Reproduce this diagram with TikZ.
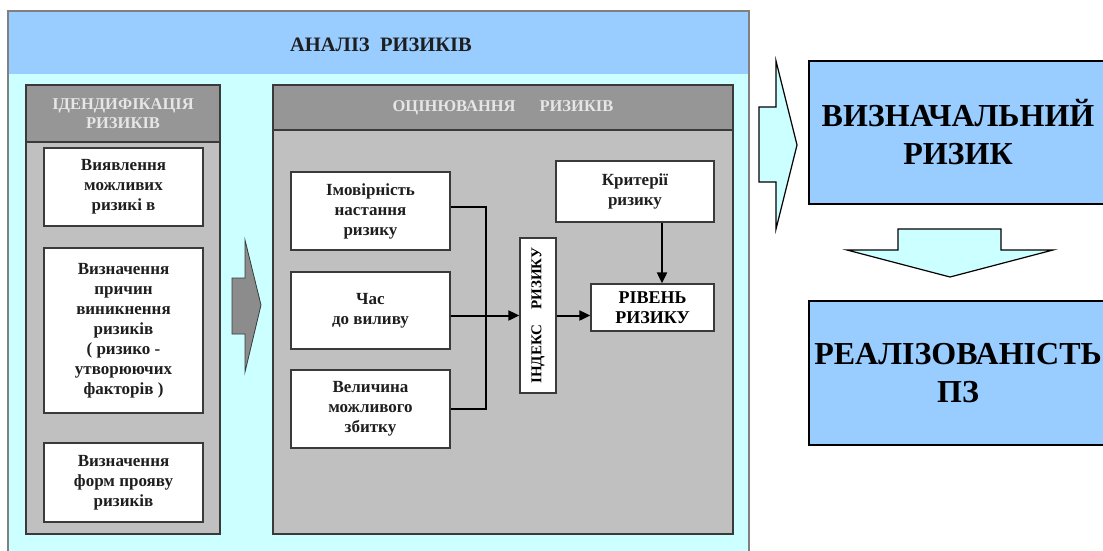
\documentclass[tikz,border=0pt]{standalone}
\usepackage{fontspec}
\setmainfont{Liberation Serif}[BoldFont={Liberation Serif Bold}]
\usetikzlibrary{arrows.meta}

\definecolor{skyband}{HTML}{99CCFF}
\definecolor{paleaqua}{HTML}{CCFFFF}
\definecolor{hdrgray}{HTML}{969696}
\definecolor{bodygray}{HTML}{C0C0C0}
\definecolor{arrowgray}{HTML}{8C8C8C}
\definecolor{edgegray}{HTML}{3A3A3A}
\definecolor{hdrtext}{HTML}{E6E6E6}
\definecolor{textdark}{HTML}{1E1E1E}

\newcommand\setfs[2]{\fontsize{#1}{#2}\selectfont}

\begin{document}
\begin{tikzpicture}[x=1pt,y=-1pt,
  wbox/.style={draw=edgegray, line width=1.3pt, fill=white, align=center,
    inner sep=0pt, text=textdark, font=\bfseries\setfs{17}{20}},
  panelbody/.style={draw=edgegray, line width=1.3pt, fill=bodygray, inner sep=0pt},
  hdr/.style={draw=edgegray, line width=1.3pt, fill=hdrgray, inner sep=0pt,
    align=center, text=hdrtext, font=\bfseries\setfs{16.5}{19}},
  bluebox/.style={draw=black, line width=1.5pt, fill=skyband, align=center,
    inner sep=0pt, font=\bfseries\setfs{32}{38}},
  link/.style={line width=2pt, black},
  arrowed/.style={-{Triangle[length=11pt,width=10pt]}},
  bigarrow/.style={line width=1.2pt, line join=miter}
]
\useasboundingbox (0,0) rectangle (1103,550);
\clip (0,0) rectangle (1103,550);
\fill[white] (0,0) rectangle (1103,550);

% outer frame: risk analysis
\fill[paleaqua] (8,11) rectangle (749,560);
\fill[skyband] (8,11) rectangle (749,74);
\draw[gray, line width=1.3pt] (8,560) -- (8,11) -- (749,11) -- (749,560);
\node[font=\bfseries\setfs{20.5}{24}, text=textdark] (title) at (381,45) {АНАЛІЗ\ \ РИЗИКІВ};

% identification panel
\node[panelbody, minimum width=194pt, minimum height=449pt] (idpanel) at (123,309.5) {};
\node[hdr, minimum width=194pt, minimum height=57pt] (idhead) at (123,113.5) {ІДЕНДИФІКАЦІЯ\\РИЗИКІВ};

\node[wbox, minimum width=159pt, minimum height=78pt] (find) at (123.5,187) {Виявлення\\можливих\\ризикі в};
\node[wbox, minimum width=159pt, minimum height=165pt] (causes) at (123.5,330.5)
  {Визначення\\причин\\виникнення\\ризиків\\( ризико -\\утворюючих\\факторів )};
\node[wbox, minimum width=159pt, minimum height=79pt] (forms) at (123.5,482.5) {Визначення\\форм прояву\\ризиків};

% arrow between the panels
\draw[bigarrow, fill=arrowgray, draw=edgegray, line width=0.8pt]
  (232,278) -- (245,278) -- (245,240) -- (261,305) -- (245,372) -- (245,334) -- (232,334) -- cycle;

% assessment panel
\node[panelbody, minimum width=460pt, minimum height=449pt] (evpanel) at (503,309.5) {};
\node[hdr, minimum width=460pt, minimum height=45pt] (evhead) at (503,107.5) {ОЦІНЮВАННЯ\hspace{1.45em}РИЗИКІВ};

\node[wbox, minimum width=159pt, minimum height=78pt] (prob) at (370.5,211) {Імовірність\\настання\\ризику};
\node[wbox, minimum width=159pt, minimum height=77pt] (time) at (370.5,310.5) {Час\\до виливу};
\node[wbox, minimum width=159pt, minimum height=78pt] (size) at (370.5,409) {Величина\\можливого\\збитку};

\node[wbox, minimum width=36pt, minimum height=155pt] (index) at (538,315.5) {};
\node[rotate=90, font=\bfseries\setfs{15}{18}, text=black] (indexlabel) at (index.center) {ІНДЕКС\hspace{1em}РИЗИКУ};

\node[wbox, minimum width=158pt, minimum height=61pt] (crit) at (635,191.5) {Критерії\\ризику};
\node[wbox, minimum width=123pt, minimum height=47pt, text=black,
  font=\bfseries\setfs{18}{20}] (level) at (652.5,307.5) {РІВЕНЬ\\РИЗИКУ};

% connectors of the assessment
\coordinate (bus) at (486,315.5);
\draw[link] ([yshift=4pt]prob.east) -| (bus);
\draw[link] (size.east) -| (bus);
\draw[link, arrowed] (time.east |- index.west) -- (index.west);
\draw[link, arrowed] (index.east) -- (index.east -| level.west);
\draw[link, arrowed] ([xshift=27pt]crit.south) -- ([xshift=27pt]crit.south |- level.north);

% results on the right
\draw[bigarrow, fill=paleaqua, draw=black]
  (759,107) -- (776,107) -- (776,61) -- (797,145) -- (776,229) -- (776,182) -- (759,182) -- cycle;
\node[bluebox, minimum width=298pt, minimum height=143pt] (initial) at (958,132.5) {ВИЗНАЧАЛЬНИЙ\\РИЗИК};
\draw[bigarrow, fill=paleaqua, draw=black]
  (898,229) -- (1001,229) -- (1001,250) -- (1053,250) -- (950,277) -- (847,250) -- (898,250) -- cycle;
\node[bluebox, minimum width=298pt, minimum height=144pt] (realized) at (958,373) {РЕАЛІЗОВАНІСТЬ\\ПЗ};
\end{tikzpicture}
\end{document}
